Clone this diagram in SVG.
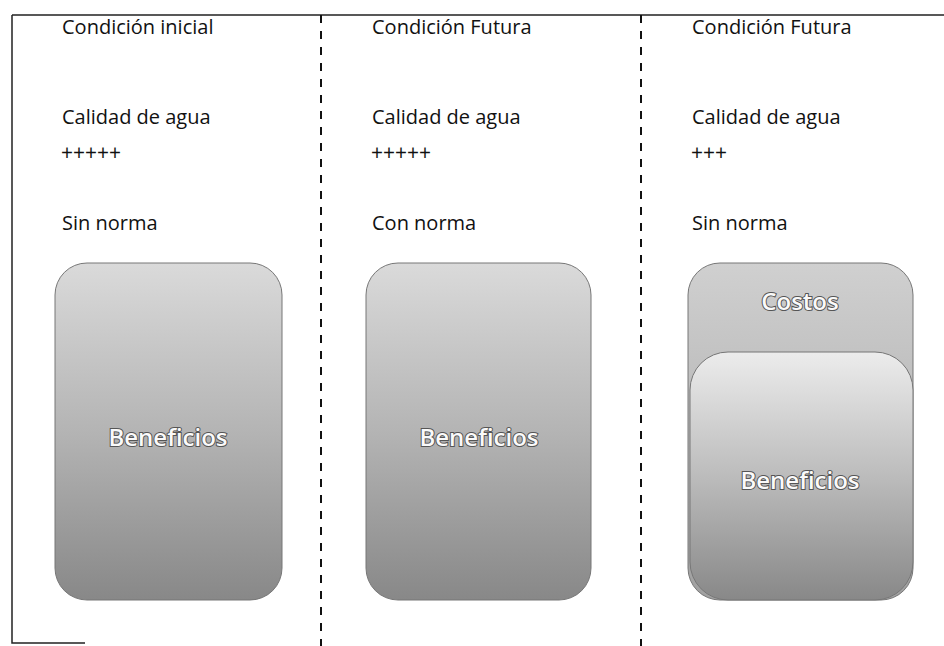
<svg xmlns="http://www.w3.org/2000/svg" width="944" height="646" viewBox="0 0 944 646">
  <style>
    .lbl { font-family: "Open Sans", "Noto Sans", "Liberation Sans", sans-serif; font-size: 20px; fill: #111; }
    .plus { font-family: "Open Sans", "Liberation Sans", sans-serif; font-size: 21px; fill: #111; }
    .box { stroke: #777; stroke-width: 1; }
    .btxt { font-family: "Open Sans", "Noto Sans", "Liberation Sans", sans-serif; font-size: 24px; font-weight: 600; fill: #fafafa; stroke: #555; stroke-width: 2; paint-order: stroke; text-anchor: middle; }
    .frame { stroke: #222; stroke-width: 1.5; fill: none; }
    .dash { stroke: #111; stroke-width: 2; stroke-dasharray: 8 8; fill: none; }
  </style>
  <defs>
    <linearGradient id="gb" x1="0" y1="0" x2="0" y2="1">
      <stop offset="0" stop-color="#dadada"/>
      <stop offset="0.5" stop-color="#b4b4b4"/>
      <stop offset="1" stop-color="#888888"/>
    </linearGradient>
    <linearGradient id="gc" x1="0" y1="0" x2="0" y2="1">
      <stop offset="0" stop-color="#d0d0d0"/>
      <stop offset="1" stop-color="#a0a0a0"/>
    </linearGradient>
    <linearGradient id="gi" x1="0" y1="0" x2="0" y2="1">
      <stop offset="0" stop-color="#ececec"/>
      <stop offset="0.5" stop-color="#bcbcbc"/>
      <stop offset="1" stop-color="#888888"/>
    </linearGradient>
  </defs>
  <rect width="944" height="646" fill="#ffffff"/>

  <g id="frame">
    <path class="frame" d="M12,15 H944 M12,15 V643 H85"/>
  </g>
  <g id="connectors">
    <line class="dash" x1="321" y1="15" x2="321" y2="646"/>
    <line class="dash" x1="641" y1="15" x2="641" y2="646"/>
  </g>

  <g id="col1">
    <text class="lbl" x="62" y="34">Condición inicial</text>
    <text class="lbl" x="62" y="124">Calidad de agua</text>
    <text class="plus" x="61" y="160">+++++</text>
    <text class="lbl" x="62" y="230">Sin norma</text>
  </g>
  <g id="col2">
    <text class="lbl" x="372" y="34">Condición Futura</text>
    <text class="lbl" x="372" y="124">Calidad de agua</text>
    <text class="plus" x="371" y="160">+++++</text>
    <text class="lbl" x="372" y="230">Con norma</text>
  </g>
  <g id="col3">
    <text class="lbl" x="692" y="34">Condición Futura</text>
    <text class="lbl" x="692" y="124">Calidad de agua</text>
    <text class="plus" x="691" y="160">+++</text>
    <text class="lbl" x="692" y="230">Sin norma</text>
  </g>

  <g id="beneficios1">
    <rect class="box" x="55" y="263" width="227" height="337" rx="32" fill="url(#gb)"/>
    <text class="btxt" x="168" y="446">Beneficios</text>
  </g>
  <g id="beneficios2">
    <rect class="box" x="366" y="263" width="225" height="337" rx="32" fill="url(#gb)"/>
    <text class="btxt" x="479" y="446">Beneficios</text>
  </g>
  <g id="costos">
    <rect class="box" x="688" y="263" width="225" height="337" rx="32" fill="url(#gc)"/>
    <text class="btxt" x="800" y="310">Costos</text>
  </g>
  <g id="beneficios3">
    <rect class="box" x="690" y="352" width="223" height="248" rx="38" fill="url(#gi)"/>
    <text class="btxt" x="800" y="489">Beneficios</text>
  </g>
</svg>
